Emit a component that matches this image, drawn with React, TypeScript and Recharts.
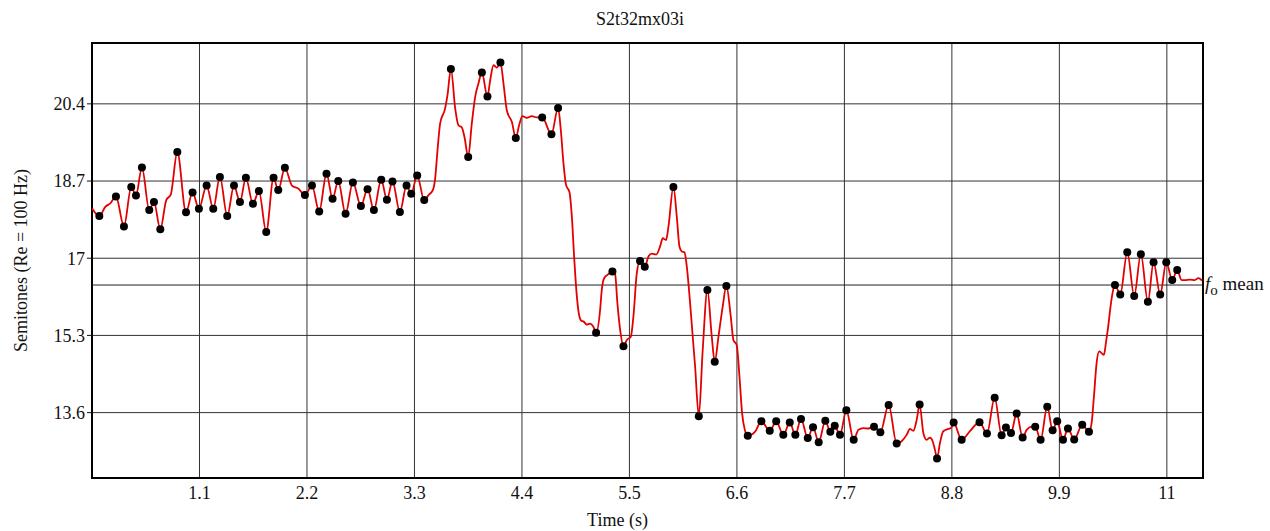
import {
  ComposedChart,
  Line,
  Scatter,
  XAxis,
  YAxis,
  CartesianGrid,
  ReferenceLine,
  ReferenceArea,
} from 'recharts';

// dots = detected syllable targets [time s, semitones]
const peakPoints: [number, number][] = [
  [0.075, 17.93], [0.245, 18.36], [0.327, 17.7], [0.402, 18.57], [0.45, 18.38],
  [0.511, 19.0], [0.586, 18.06], [0.634, 18.24], [0.699, 17.64], [0.873, 19.34],
  [0.962, 18.01], [1.029, 18.45], [1.094, 18.09], [1.173, 18.6], [1.241, 18.09],
  [1.309, 18.79], [1.384, 17.93], [1.453, 18.6], [1.514, 18.24], [1.575, 18.77],
  [1.647, 18.2], [1.708, 18.48], [1.783, 17.58], [1.858, 18.77], [1.906, 18.5],
  [1.974, 18.99], [2.179, 18.39], [2.251, 18.6], [2.325, 18.03], [2.4, 18.86],
  [2.462, 18.31], [2.52, 18.7], [2.595, 17.98], [2.67, 18.67], [2.752, 18.15],
  [2.82, 18.52], [2.885, 18.06], [2.96, 18.73], [3.018, 18.29], [3.075, 18.69],
  [3.151, 18.02], [3.219, 18.6], [3.267, 18.42], [3.328, 18.82], [3.4, 18.28],
  [3.673, 21.17], [3.85, 19.23], [3.99, 21.09], [4.047, 20.56], [4.18, 21.31],
  [4.337, 19.65], [4.607, 20.1], [4.702, 19.73], [4.77, 20.31], [5.159, 15.36],
  [5.326, 16.71], [5.439, 15.06], [5.609, 16.94], [5.657, 16.81], [5.95, 18.57],
  [6.21, 13.52], [6.298, 16.3], [6.373, 14.72], [6.492, 16.39], [6.711, 13.09],
  [6.85, 13.41], [6.936, 13.2], [7.002, 13.41], [7.075, 13.11], [7.141, 13.38],
  [7.198, 13.11], [7.256, 13.46], [7.325, 13.04], [7.379, 13.28], [7.437, 12.95],
  [7.505, 13.42], [7.556, 13.18], [7.601, 13.31], [7.655, 13.11], [7.72, 13.65],
  [7.795, 13.0], [8.003, 13.29], [8.068, 13.17], [8.153, 13.77], [8.235, 12.92],
  [8.47, 13.78], [8.648, 12.59], [8.818, 13.38], [8.9, 13.0], [9.083, 13.39],
  [9.159, 13.14], [9.238, 13.93], [9.309, 13.1], [9.353, 13.27], [9.405, 13.15],
  [9.463, 13.58], [9.524, 13.05], [9.653, 13.29], [9.708, 13.0], [9.776, 13.73],
  [9.831, 13.21], [9.878, 13.41], [9.937, 13.0], [9.988, 13.25], [10.052, 13.01],
  [10.134, 13.33], [10.203, 13.18], [10.469, 16.41], [10.523, 16.2], [10.595, 17.13],
  [10.666, 16.17], [10.734, 17.09], [10.806, 16.04], [10.864, 16.91], [10.932, 16.2],
  [10.994, 16.91], [11.055, 16.52], [11.106, 16.74],
];

// the rest of the f0 contour between the dots
const glidePoints: [number, number][] = [
  [0, 18.1], [0.136, 18.13], [0.187, 18.21], [0.76, 18.28], [0.806, 18.4],
  [2.046, 18.6], [2.114, 18.53], [3.444, 18.39], [3.488, 18.5], [3.512, 18.76],
  [3.536, 19.38], [3.563, 19.97], [3.614, 20.3], [3.638, 20.59], [3.717, 20.3],
  [3.75, 19.93], [3.785, 19.88], [3.812, 19.67], [3.887, 19.97], [3.921, 20.55],
  [3.955, 20.85], [4.075, 20.92], [4.109, 21.25], [4.143, 21.2], [4.211, 20.85],
  [4.245, 20.26], [4.297, 20.0], [4.371, 19.93], [4.405, 20.13], [4.45, 20.09],
  [4.501, 20.13], [4.552, 20.1], [4.798, 19.82], [4.825, 19.09], [4.852, 18.61],
  [4.886, 18.46], [4.911, 17.91], [4.934, 17.04], [4.962, 16.16], [4.985, 15.75],
  [5.01, 15.62], [5.029, 15.61], [5.063, 15.54], [5.097, 15.56], [5.131, 15.49],
  [5.2, 15.86], [5.217, 16.3], [5.241, 16.56], [5.285, 16.65], [5.353, 16.66],
  [5.377, 16.01], [5.405, 15.42], [5.473, 15.2], [5.514, 15.27], [5.541, 15.72],
  [5.575, 16.66], [5.695, 17.04], [5.729, 17.1], [5.773, 17.08], [5.814, 17.26],
  [5.841, 17.44], [5.875, 17.4], [5.899, 17.69], [5.985, 17.91], [6.012, 17.26],
  [6.036, 17.15], [6.063, 17.13], [6.087, 16.82], [6.121, 16.01], [6.148, 15.27],
  [6.172, 14.62], [6.25, 14.98], [6.343, 15.27], [6.411, 15.27], [6.455, 15.94],
  [6.537, 15.72], [6.564, 15.2], [6.598, 15.09], [6.626, 14.4], [6.653, 13.59],
  [6.681, 13.22], [6.786, 13.18], [7.843, 13.22], [7.894, 13.26], [7.945, 13.25],
  [8.286, 12.97], [8.337, 13.11], [8.371, 13.24], [8.406, 13.2], [8.44, 13.44],
  [8.508, 13.15], [8.542, 13.0], [8.576, 13.05], [8.603, 12.97], [8.627, 12.78],
  [8.678, 12.93], [8.712, 13.19], [8.763, 13.24], [8.791, 13.26], [8.985, 13.19],
  [9.565, 13.22], [9.616, 13.29], [10.23, 13.37], [10.254, 13.96], [10.281, 14.69],
  [10.308, 14.95], [10.332, 14.91], [10.356, 14.87], [10.376, 15.13], [10.4, 15.5],
  [10.424, 15.94], [10.444, 16.23], [11.151, 16.52], [11.185, 16.52], [11.236, 16.53],
  [11.287, 16.52], [11.321, 16.56], [11.36, 16.51],
];

const timeTicks = [1.1, 2.2, 3.3, 4.4, 5.5, 6.6, 7.7, 8.8, 9.9, 11];
const semitoneTicks = [13.6, 15.3, 17, 18.7, 20.4];
const f0Mean = 16.41;

const FONT = "'Liberation Serif', 'Times New Roman', serif";
const T_MAX = 11.37;
const ST_MIN = 12.16;
const ST_MAX = 21.74;

const contour = [...peakPoints, ...glidePoints]
  .sort((a, b) => a[0] - b[0])
  .map(([t, st]) => ({ t, st }));
const dots = peakPoints.map(([t, st]) => ({ t, st }));

export default function App() {
  return (
    <div style={{ position: 'absolute', left: 0, top: 0, width: 1270, height: 531, background: '#fff', fontFamily: FONT }}>
      <div style={{ position: 'absolute', top: 9, left: 0, width: 1280, textAlign: 'center', fontSize: 18, color: '#111' }}>
        S2t32mx03i
      </div>
      <ComposedChart
        width={1270}
        height={531}
        margin={{ top: 43, right: 67, bottom: 0, left: 0 }}
        style={{ fontFamily: FONT }}
      >
        <CartesianGrid stroke="#333" strokeWidth={1} />
        <XAxis
          dataKey="t"
          type="number"
          domain={[0, T_MAX]}
          ticks={timeTicks}
          allowDataOverflow
          height={53}
          axisLine={false}
          tickLine={false}
          tickSize={6}
          tick={{ fill: '#111', fontSize: 18, fontFamily: FONT }}
          label={({ viewBox }: any) => (
            <text x={viewBox.x + viewBox.width / 2 - 30} y={viewBox.y + 48} textAnchor="middle" fontSize={18} fill="#111" fontFamily={FONT}>
              Time (s)
            </text>
          )}
        />
        <YAxis
          dataKey="st"
          type="number"
          domain={[ST_MIN, ST_MAX]}
          ticks={semitoneTicks}
          allowDataOverflow
          width={92}
          axisLine={false}
          tickLine={{ stroke: '#111' }}
          tickSize={5}
          tick={{ fill: '#111', fontSize: 18, fontFamily: FONT }}
          label={({ viewBox }: any) => {
            const cx = viewBox.x + 21;
            const cy = viewBox.y + viewBox.height / 2;
            return (
              <text x={cx} y={cy} transform={`rotate(-90 ${cx} ${cy})`} textAnchor="middle" dominantBaseline="central" fontSize={18} fill="#111" fontFamily={FONT}>
                Semitones (Re = 100 Hz)
              </text>
            );
          }}
        />
        <ReferenceLine
          y={f0Mean}
          stroke="#222"
          strokeWidth={1}
          label={({ viewBox }: any) => (
            <text x={viewBox.x + viewBox.width + 2} y={viewBox.y + 5} fontSize={19} fill="#111" fontFamily={FONT}>
              <tspan fontStyle="italic">f</tspan>
              <tspan dy={5} fontSize={15}>o</tspan>
              <tspan dy={-5}> mean</tspan>
            </text>
          )}
        />
        <Line
          data={contour}
          dataKey="st"
          type="monotone"
          stroke="#e30000"
          strokeWidth={1.8}
          dot={false}
          activeDot={false}
          isAnimationActive={false}
        />
        <Scatter
          data={dots}
          dataKey="st"
          fill="#000"
          isAnimationActive={false}
          shape={(p: any) => <circle cx={p.cx} cy={p.cy} r={4} fill="#000" />}
        />
        <ReferenceArea x1={0} x2={T_MAX} y1={ST_MIN} y2={ST_MAX} fill="none" fillOpacity={0} stroke="#000" strokeWidth={2} ifOverflow="visible" />
      </ComposedChart>
    </div>
  );
}
